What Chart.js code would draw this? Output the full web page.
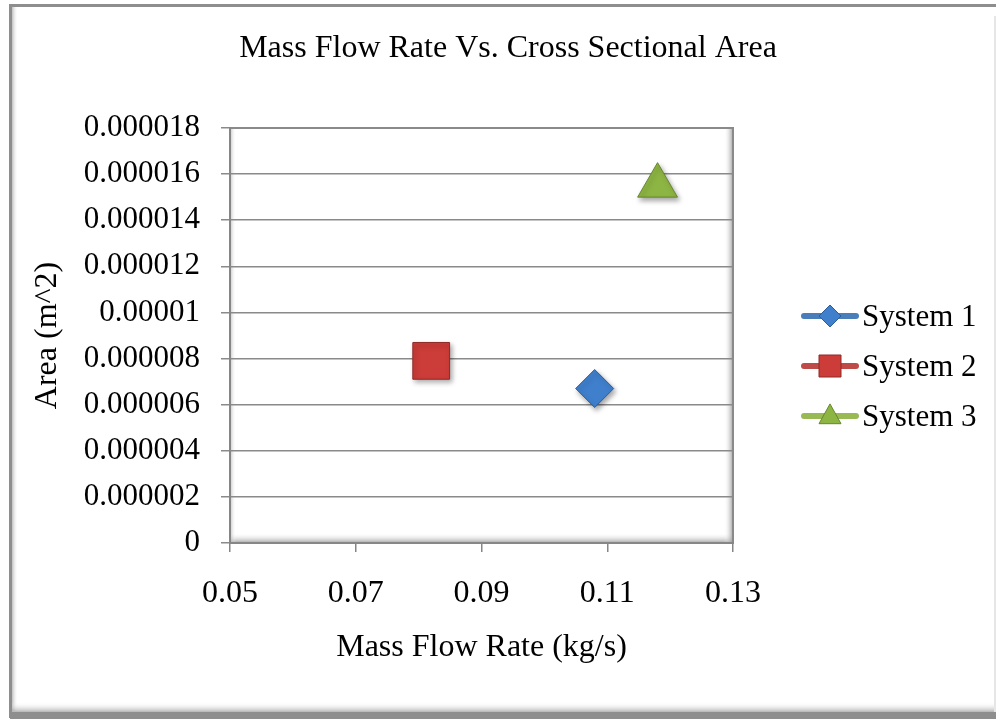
<!DOCTYPE html>
<html>
<head>
<meta charset="utf-8">
<title>Mass Flow Rate Vs. Cross Sectional Area</title>
<script src="https://cdn.jsdelivr.net/npm/chart.js@4.4.1/dist/chart.umd.min.js"></script>
<style>
    html, body { margin: 0; padding: 0; background: #ffffff; }
    #chartBox { width: 996px; height: 719px; }
</style>
</head>
<body>
<div id="chartBox"><canvas id="flowChart" width="996" height="719"></canvas></div>
<script>
const seriesNames = ['System 1', 'System 2', 'System 3'];
const massFlowRates = [0.108, 0.082, 0.118];
const crossAreas = [0.0000067, 0.0000079, 0.0000155];
const xTickLabels = ['0.05', '0.07', '0.09', '0.11', '0.13'];
const yTickLabels = ['0', '0.000002', '0.000004', '0.000006', '0.000008', '0.00001',
    '0.000012', '0.000014', '0.000016', '0.000018'];

const fillColors = ['#3f7fcc', '#cc3c38', '#8db543'];
const edgeColors = ['#2c5d99', '#8e2a27', '#66872d'];
const lineColors = ['#4a7ebb', '#be4b48', '#98b954'];
const markerStyles = ['rectRot', 'rect', 'triangle'];
const markerSizes = [19, 26, 23];

const serif = "'Liberation Serif', 'Times New Roman', serif";

// small marker drawer for the legend
function drawMarker(ctx, style, x, y, r) {
    ctx.beginPath();
    if (style === 'rectRot') {
        ctx.moveTo(x, y - r);
        ctx.lineTo(x + r, y);
        ctx.lineTo(x, y + r);
        ctx.lineTo(x - r, y);
    } else if (style === 'rect') {
        ctx.rect(x - r, y - r, 2 * r, 2 * r);
    } else {
        ctx.moveTo(x, y - r * 1.1);
        ctx.lineTo(x + r, y + r * 0.7);
        ctx.lineTo(x - r, y + r * 0.7);
    }
    ctx.closePath();
    ctx.fill();
    ctx.stroke();
}

const framePlugin = {
    id: 'frame',
    beforeDraw(chart) {
        const ctx = chart.ctx;
        const a = chart.chartArea;
        ctx.save();
        ctx.fillStyle = '#ffffff';
        ctx.fillRect(0, 0, chart.width, chart.height);

        // outer frame with soft inner shade
        let g = ctx.createLinearGradient(12, 0, 18, 0);
        g.addColorStop(0, 'rgba(150,150,150,0.6)');
        g.addColorStop(1, 'rgba(255,255,255,0)');
        ctx.fillStyle = g;
        ctx.fillRect(12, 7, 6, 704);
        g = ctx.createLinearGradient(0, 702, 0, 712);
        g.addColorStop(0, 'rgba(255,255,255,0)');
        g.addColorStop(1, 'rgba(150,150,150,0.7)');
        ctx.fillStyle = g;
        ctx.fillRect(12, 702, 984, 10);
        ctx.strokeStyle = '#8e8e8e';
        ctx.lineWidth = 3;
        ctx.beginPath();
        ctx.moveTo(10.5, 718);
        ctx.lineTo(10.5, 5.5);
        ctx.lineTo(996, 5.5);
        ctx.stroke();
        ctx.fillStyle = '#8e8e8e';
        ctx.fillRect(10, 712, 986, 7);
        ctx.strokeStyle = '#e6e6e6';
        ctx.lineWidth = 2;
        ctx.beginPath();
        ctx.moveTo(995, 16);
        ctx.lineTo(995, 712);
        ctx.stroke();

        // bevelled plot area
        g = ctx.createLinearGradient(0, a.bottom - 10, 0, a.bottom);
        g.addColorStop(0, 'rgba(255,255,255,0)');
        g.addColorStop(1, 'rgba(140,140,140,0.8)');
        ctx.fillStyle = g;
        ctx.fillRect(a.left, a.bottom - 10, a.width, 10);
        g = ctx.createLinearGradient(a.right - 9, 0, a.right, 0);
        g.addColorStop(0, 'rgba(255,255,255,0)');
        g.addColorStop(1, 'rgba(140,140,140,0.8)');
        ctx.fillStyle = g;
        ctx.fillRect(a.right - 9, a.top, 9, a.height);
        g = ctx.createLinearGradient(a.left, 0, a.left + 6, 0);
        g.addColorStop(0, 'rgba(170,170,170,0.7)');
        g.addColorStop(1, 'rgba(255,255,255,0)');
        ctx.fillStyle = g;
        ctx.fillRect(a.left, a.top, 6, a.height);
        ctx.strokeStyle = '#8a8a8a';
        ctx.lineWidth = 2;
        ctx.strokeRect(a.left, a.top, a.width, a.height);
        ctx.restore();
    },
    beforeDatasetsDraw(chart) {
        const ctx = chart.ctx;
        ctx.save();
        ctx.shadowColor = 'rgba(0,0,0,0.35)';
        ctx.shadowBlur = 5;
        ctx.shadowOffsetX = 2;
        ctx.shadowOffsetY = 3;
    },
    afterDatasetsDraw(chart) {
        chart.ctx.restore();
    },
    afterDraw(chart) {
        const ctx = chart.ctx;
        ctx.save();
        ctx.fillStyle = '#000000';
        ctx.font = '32px ' + serif;
        ctx.textAlign = 'center';
        ctx.textBaseline = 'alphabetic';
        ctx.fillText('Mass Flow Rate Vs. Cross Sectional Area', 508, 57);

        // legend: line + marker + label
        ctx.font = '31px ' + serif;
        chart.data.datasets.forEach((ds, i) => {
            const y = 316 + i * 50;
            ctx.strokeStyle = lineColors[i];
            ctx.lineWidth = 6;
            ctx.lineCap = 'round';
            ctx.beginPath();
            ctx.moveTo(804, y);
            ctx.lineTo(856, y);
            ctx.stroke();
            ctx.lineCap = 'butt';
            ctx.fillStyle = fillColors[i];
            ctx.strokeStyle = edgeColors[i];
            ctx.lineWidth = 1;
            drawMarker(ctx, markerStyles[i], 830, y, 11);
            ctx.fillStyle = '#000000';
            ctx.textAlign = 'left';
            ctx.fillText(ds.label, 862, y + 10);
        });
        ctx.restore();
    }
};

const datasets = seriesNames.map((name, i) => ({
    label: name,
    data: [{ x: massFlowRates[i], y: crossAreas[i] }],
    pointStyle: markerStyles[i],
    pointRadius: markerSizes[i],
    pointHoverRadius: markerSizes[i],
    backgroundColor: fillColors[i],
    borderColor: edgeColors[i],
    borderWidth: 1
}));

new Chart(document.getElementById('flowChart'), {
    type: 'scatter',
    data: { datasets: datasets },
    options: {
        responsive: false,
        animation: false,
        events: [],
        layout: { padding: { left: 20, top: 128, right: 263, bottom: 0 } },
        plugins: {
            legend: { display: false },
            title: { display: false },
            tooltip: { enabled: false }
        },
        scales: {
            x: {
                type: 'linear',
                min: 0.05,
                max: 0.13,
                afterFit: s => { s.height = 176; },
                ticks: {
                    stepSize: 0.02,
                    padding: 22,
                    color: '#000000',
                    font: { family: serif, size: 32 },
                    maxRotation: 0,
                    callback: (v, idx) => xTickLabels[idx]
                },
                grid: {
                    drawOnChartArea: false,
                    drawTicks: true,
                    tickLength: 9,
                    color: '#868686',
                    lineWidth: 1.5
                },
                border: { display: true, color: '#868686', width: 2 },
                title: {
                    display: true,
                    text: 'Mass Flow Rate (kg/s)',
                    color: '#000000',
                    font: { family: serif, size: 32 },
                    padding: { top: 0, bottom: 52 }
                }
            },
            y: {
                type: 'linear',
                min: 0,
                max: 0.000018,
                afterFit: s => { s.width = 210; },
                ticks: {
                    stepSize: 0.000002,
                    padding: 21,
                    color: '#000000',
                    font: { family: serif, size: 31 },
                    callback: (v, idx) => yTickLabels[idx]
                },
                grid: {
                    drawTicks: true,
                    tickLength: 9,
                    color: '#8a8a8a',
                    lineWidth: 1.5
                },
                border: { display: true, color: '#868686', width: 2 },
                title: {
                    display: true,
                    text: 'Area (m^2)',
                    color: '#000000',
                    font: { family: serif, size: 32 },
                    padding: { top: 8, bottom: 0 }
                }
            }
        }
    },
    plugins: [framePlugin]
});
</script>
</body>
</html>
